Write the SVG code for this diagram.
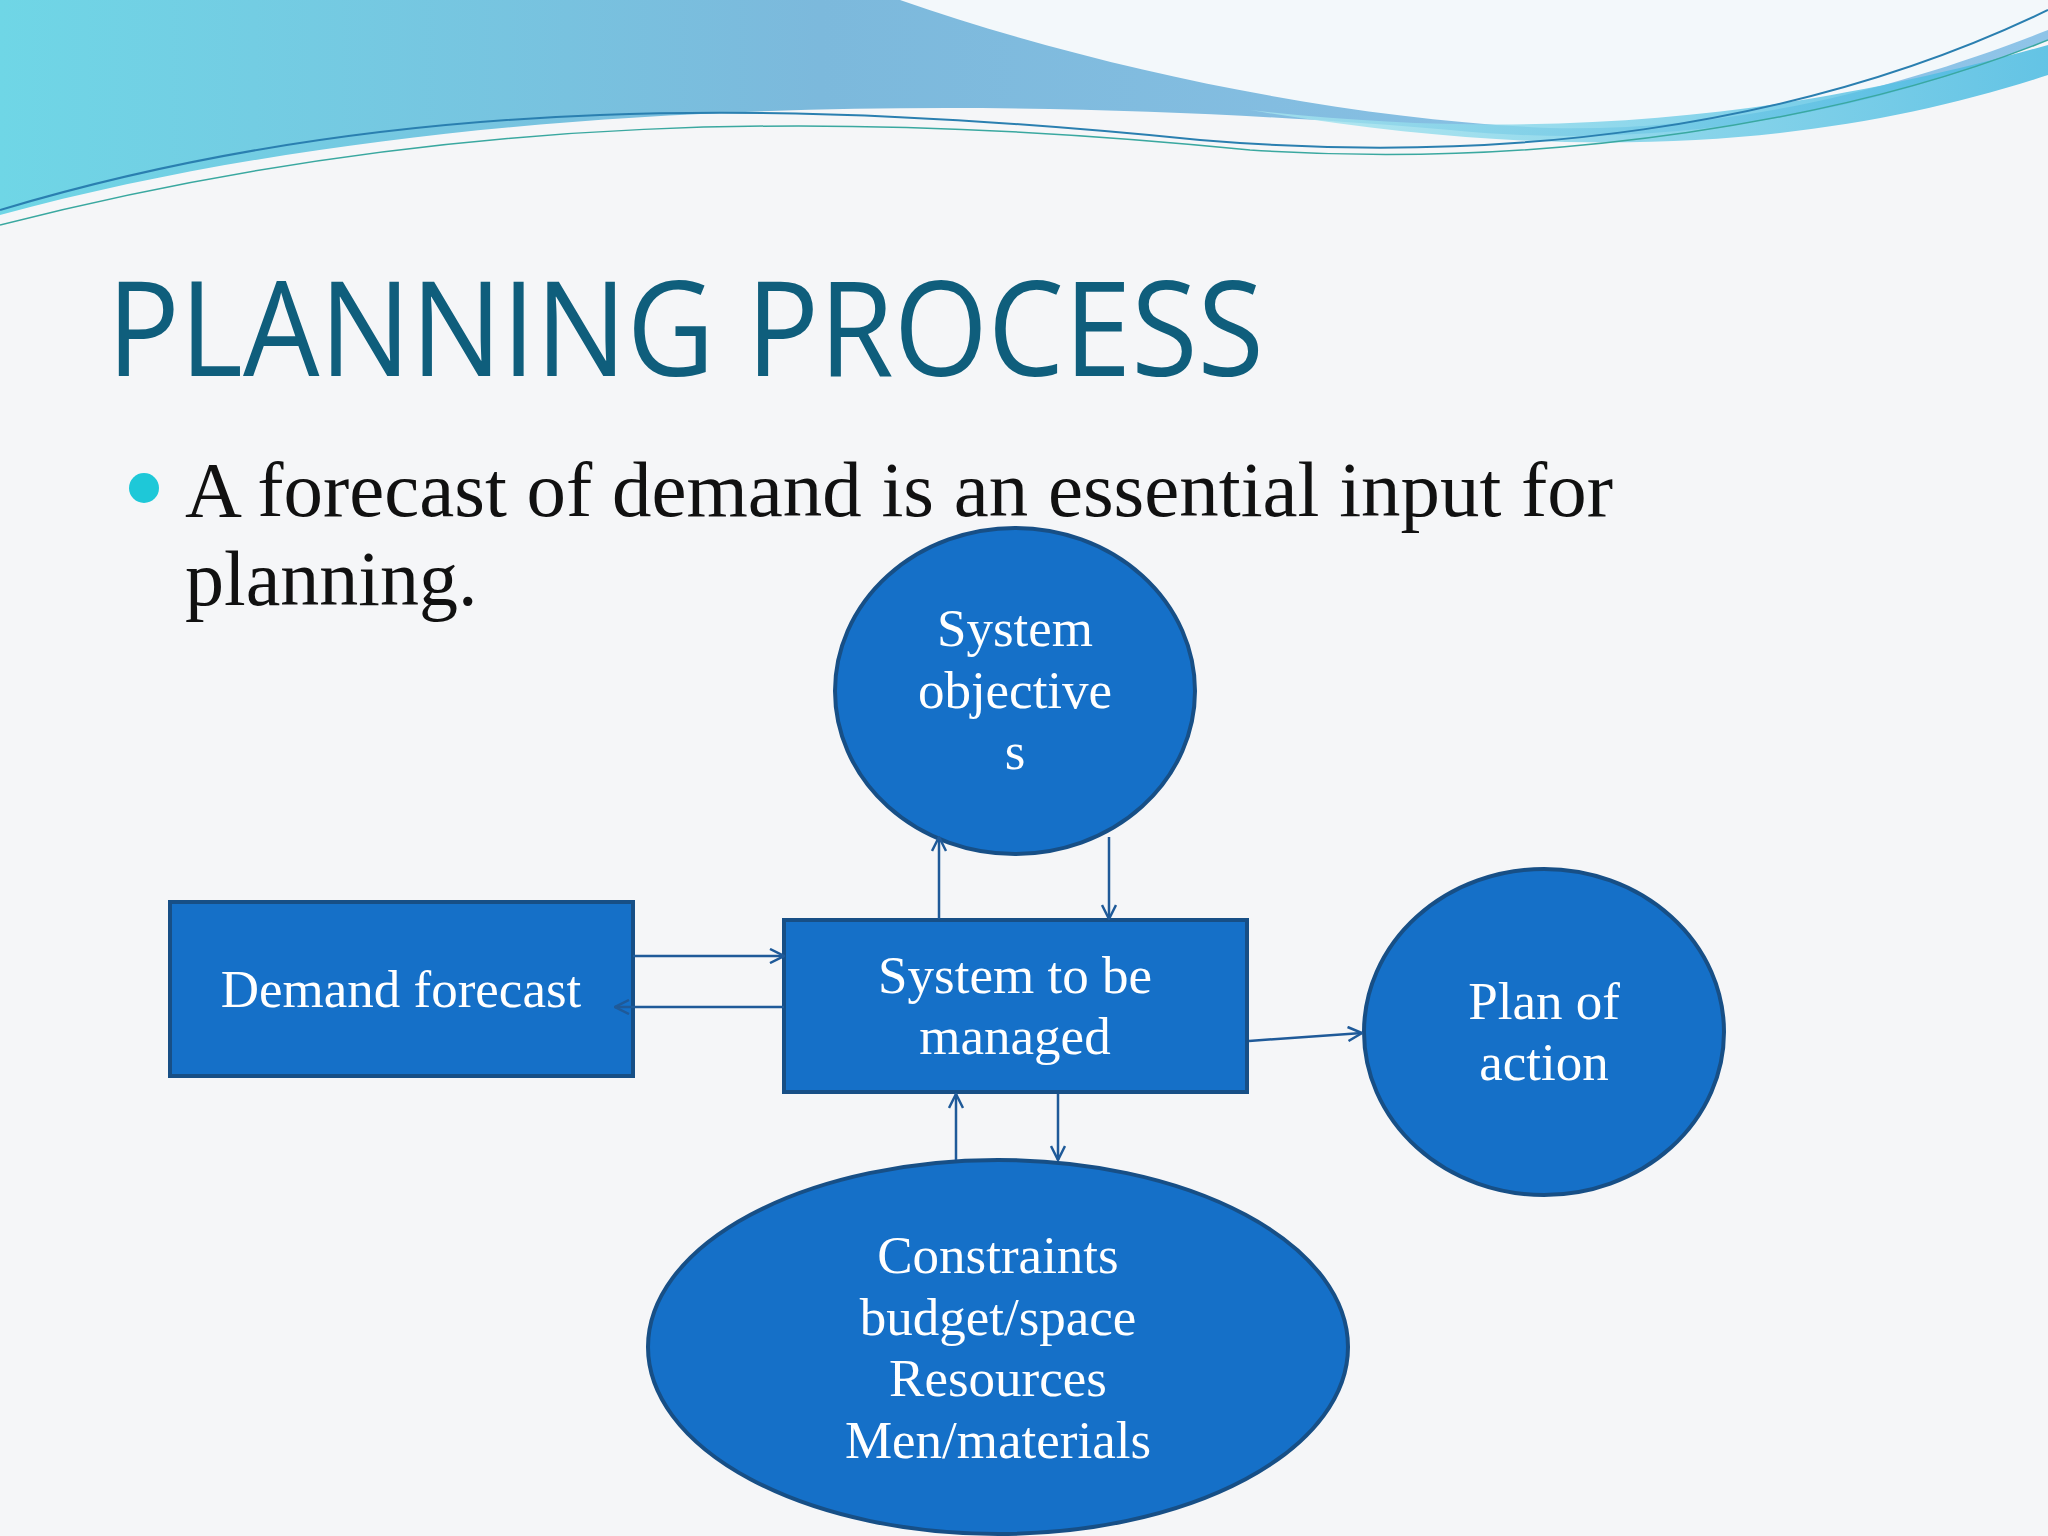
<svg xmlns="http://www.w3.org/2000/svg" width="2048" height="1536" viewBox="0 0 2048 1536">
<defs>
<linearGradient id="hg" x1="0" y1="0" x2="1" y2="0">
<stop offset="0" stop-color="#6fd6e6"/><stop offset="0.4" stop-color="#7cb9dc"/><stop offset="1" stop-color="#8fc4e8"/>
</linearGradient>
<linearGradient id="tg" x1="0" y1="0" x2="1" y2="0">
<stop offset="0" stop-color="#a8e6ef"/><stop offset="1" stop-color="#3fb7e0"/>
</linearGradient>
<marker id="ah" viewBox="0 0 16 16" refX="15" refY="8" markerWidth="16" markerHeight="16" markerUnits="userSpaceOnUse" orient="auto">
<path d="M1,1 L15,8 L1,15" fill="none" stroke="#1f5a99" stroke-width="2.5"/>
</marker>
<style>
.node{fill:#1570c8;stroke:#174f86;stroke-width:4}
.lbl{font-family:"Liberation Serif",serif;font-size:53px;fill:#ffffff;text-anchor:middle}
.con{stroke:#1f5a99;stroke-width:2.5;fill:none;marker-end:url(#ah)}
</style>
</defs>
<rect width="2048" height="1536" fill="#f5f6f8"/>
<g id="header">
<path d="M0,0 H2048 V40 C1850,120 1650,150 1450,130 C1100,100 500,80 0,215 Z" fill="url(#hg)"/>
<path d="M900,0 C1100,70 1350,120 1550,128 C1750,132 1920,80 2048,30 V0 Z" fill="#f3f8fb"/>
<path d="M1250,110 C1600,150 1850,100 2048,45 V75 C1850,140 1600,170 1250,110 Z" fill="url(#tg)" opacity="0.8"/>
<path d="M0,210 C400,90 800,100 1200,140 C1500,165 1800,130 2048,10" stroke="#2a7fb0" stroke-width="2" fill="none"/>
<path d="M0,225 C450,110 850,110 1250,150 C1550,170 1850,120 2048,40" stroke="#3aa8a0" stroke-width="1.5" fill="none"/>
</g>
<text x="107" y="376" font-family="'Open Sans',sans-serif" font-size="132" fill="#0f5e7c" textLength="1157" lengthAdjust="spacingAndGlyphs">PLANNING PROCESS</text>
<circle cx="144" cy="488" r="15" fill="#1ec8d8"/>
<text x="185" y="516" font-family="'Liberation Serif',serif" font-size="78" fill="#111" textLength="1428" lengthAdjust="spacingAndGlyphs">A forecast of demand is an essential input for</text>
<text x="185" y="605" font-family="'Liberation Serif',serif" font-size="78" fill="#111">planning.</text>
<g id="objectives"><ellipse class="node" cx="1015" cy="691" rx="180" ry="163"/>
<text class="lbl" x="1015" y="646">System</text><text class="lbl" x="1015" y="708">objective</text><text class="lbl" x="1015" y="769">s</text></g>
<g id="demand"><rect class="node" x="170" y="902" width="463" height="174"/>
<text class="lbl" x="401" y="1007">Demand forecast</text></g>
<g id="system"><rect class="node" x="784" y="920" width="463" height="172"/>
<text class="lbl" x="1015" y="993">System to be</text><text class="lbl" x="1015" y="1054">managed</text></g>
<g id="plan"><ellipse class="node" cx="1544" cy="1032" rx="180" ry="163"/>
<text class="lbl" x="1544" y="1019">Plan of</text><text class="lbl" x="1544" y="1080">action</text></g>
<g id="constraints"><ellipse class="node" cx="998" cy="1347" rx="350" ry="187"/>
<text class="lbl" x="998" y="1273">Constraints</text><text class="lbl" x="998" y="1335">budget/space</text><text class="lbl" x="998" y="1396">Resources</text><text class="lbl" x="998" y="1458">Men/materials</text></g>
<g id="connectors">
<line class="con" x1="633" y1="956" x2="784" y2="956"/>
<line class="con" x1="784" y1="1007" x2="615" y2="1007"/>
<line class="con" x1="939" y1="919" x2="939" y2="837"/>
<line class="con" x1="1109" y1="837" x2="1109" y2="919"/>
<line class="con" x1="956" y1="1160" x2="956" y2="1094"/>
<line class="con" x1="1058" y1="1094" x2="1058" y2="1160"/>
<line class="con" x1="1249" y1="1041" x2="1362" y2="1033"/>
</g>
</svg>
